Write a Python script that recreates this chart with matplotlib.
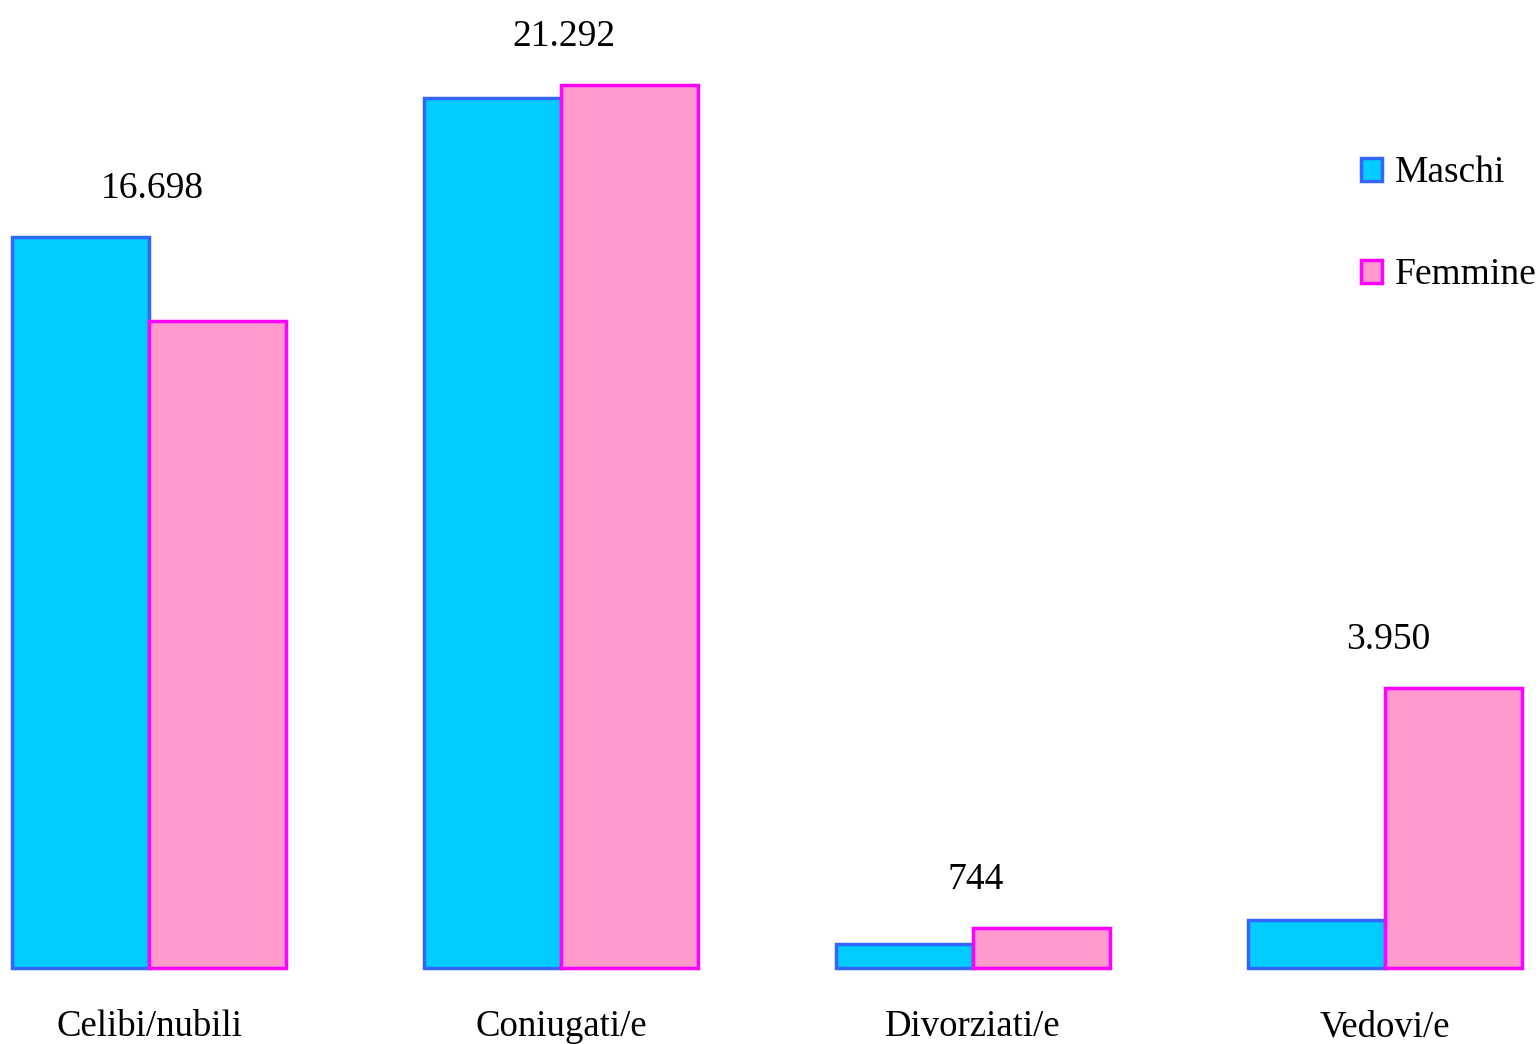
import matplotlib
matplotlib.use("Agg")
import matplotlib.pyplot as plt
import numpy as np
from matplotlib.patches import Patch

# stato civile, residenti per sesso
categorie = ["Celibi/nubili", "Coniugati/e", "Divorziati/e", "Vedovi/e"]
maschi = [17630, 20980, 580, 1160]
femmine = [15600, 21290, 965, 6750]
etichette = ["16.698", "21.292", "744", "3.950"]

col_m, bordo_m = "#00CCFF", "#3366FF"
col_f, bordo_f = "#FF99CC", "#FF00FF"

plt.rcParams["font.family"] = ["Liberation Serif", "DejaVu Serif"]

fig = plt.figure(figsize=(15.4, 10.44), dpi=100)
ax = fig.add_axes([0, 0, 1, 1])

x = np.arange(len(categorie))
w = 0.333
ax.bar(x - w / 2, maschi, w, color=col_m, edgecolor=bordo_m, linewidth=2.5, label="Maschi")
ax.bar(x + w / 2, femmine, w, color=col_f, edgecolor=bordo_f, linewidth=2.5, label="Femmine")

# px -> data: 883 px di altezza = 21292
scala = 21292 / 883.0
ax.set_xlim(-0.3617, 3.376)
ax.set_ylim(-76 * scala, 968 * scala)

for i, lab in enumerate(etichette):
    top = max(maschi[i], femmine[i])
    ax.annotate(lab, (x[i], top), xytext=(2, 28), textcoords="offset points",
                ha="center", va="baseline", fontsize=27)

for i, cat in enumerate(categorie):
    ax.text(x[i], -59 * scala, cat, ha="center", va="center", fontsize=26.5)

handles = [Patch(facecolor=col_m, edgecolor=bordo_m, linewidth=2.5),
           Patch(facecolor=col_f, edgecolor=bordo_f, linewidth=2.5)]
ax.legend(handles, ["Maschi", "Femmine"], loc="upper left",
          bbox_to_anchor=(1361 / 1540, 1 - 156 / 1044), frameon=False,
          fontsize=27, handlelength=0.55, handleheight=0.55,
          handletextpad=0.35, labelspacing=1.8, borderpad=0, borderaxespad=0)

ax.axis("off")
fig.savefig("out.png", dpi=100)
